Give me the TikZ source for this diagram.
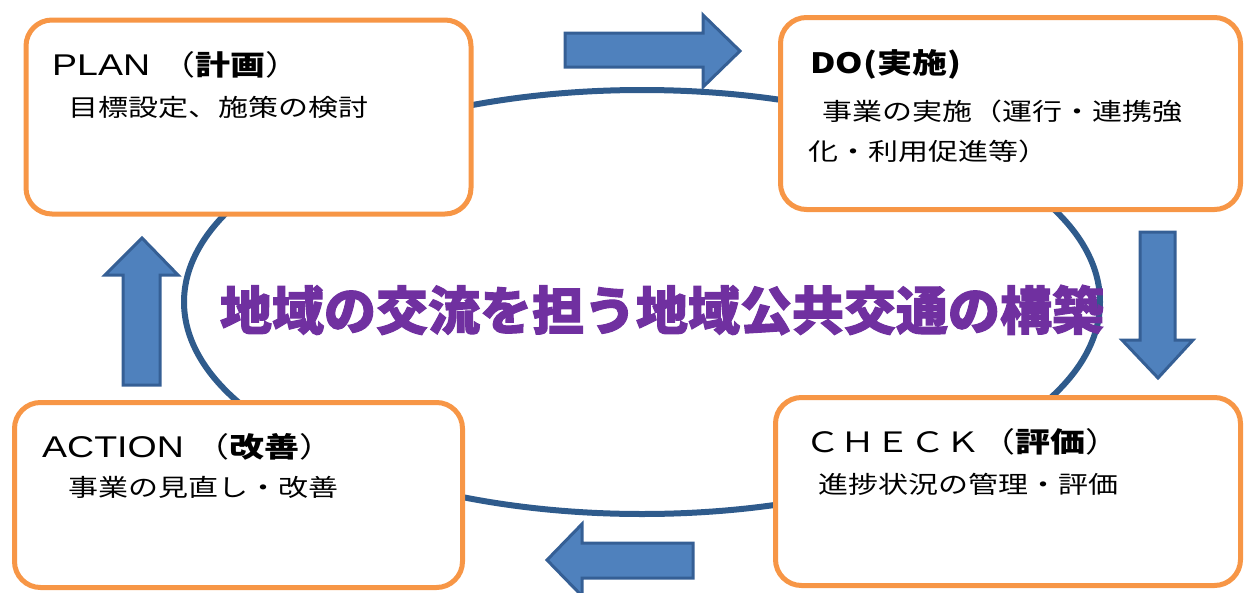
\documentclass[tikz,border=0pt]{standalone}
\usepackage{fontspec}
\newfontfamily\jp{Noto Sans CJK JP}[FakeStretch=1.25]
\newfontfamily\lat{Liberation Sans}[FakeStretch=1.25]
\newfontfamily\jpt{Noto Sans CJK JP}[BoldFeatures={FakeBold=2}]
\definecolor{boxorange}{HTML}{F79646}
\definecolor{ringblue}{HTML}{2F5B8C}
\definecolor{arrowfill}{HTML}{4F81BD}
\definecolor{arrowdraw}{HTML}{355F95}
\definecolor{titlepurple}{HTML}{7030A0}
\tikzset{
  box/.style={draw=boxorange, line width=5pt, fill=white, rounded corners=26pt,
    anchor=north west, inner sep=0pt, outer sep=0pt},
  head/.style={anchor=base west, inner sep=0pt, font=\jp\fontsize{28}{30}\selectfont},
  body/.style={anchor=base west, inner sep=0pt, font=\jp\fontsize{24}{28}\selectfont},
  blockarrow/.style={fill=arrowfill, draw=arrowdraw, line width=3pt, line join=miter},
  ring/.style={draw=ringblue, line width=6pt},
}
\newcommand{\latw}[1]{{\lat\fontsize{30}{32}\selectfont #1\ }}
\begin{document}
\begin{tikzpicture}[x=1pt,y=-1pt]
\useasboundingbox (0,0) rectangle (1245,592);
% central ring
\draw[ring] (642,302) ellipse [x radius=458pt, y radius=212pt];
% boxes
\node[box, minimum width=445pt, minimum height=194pt] (plan) at (26,20) {};
\node[box, minimum width=460pt, minimum height=192pt] (do) at (780.5,17.5) {};
\node[box, minimum width=448pt, minimum height=185pt] (action) at (14.5,402.5) {};
\node[box, minimum width=465pt, minimum height=188pt] (check) at (775.5,397.5) {};
% box texts
\node[head] (planh) at (52,75) {\latw{PLAN}（{\bfseries 計画}）};
\node[body] (planb) at (68,116) {目標設定、施策の検討};
\node[head] (doh) at (810,73) {\bfseries DO(実施)};
\node[body] (dob1) at (822,120) {事業の実施（運行・連携強};
\node[body] (dob2) at (808,160) {化・利用促進等）};
\node[head] (actionh) at (42,457) {\latw{ACTION}（{\bfseries 改善}）};
\node[body] (actionb) at (68,496) {事業の見直し・改善};
\node[head] (checkh) at (805,452) {ＣＨＥＣＫ（{\bfseries 評価}）};
\node[body] (checkb) at (818,493) {進捗状況の管理・評価};
% block arrows
\draw[blockarrow] (565,33) -- (703,33) -- (703,15) -- (740,51) -- (703,87) -- (703,67) -- (565,67) -- cycle;
\draw[blockarrow] (1140,232) -- (1175,232) -- (1175,340) -- (1193,340) -- (1158,378) -- (1122,340) -- (1140,340) -- cycle;
\draw[blockarrow] (123,385) -- (160,385) -- (160,275) -- (178,275) -- (142,238) -- (105,275) -- (123,275) -- cycle;
\draw[blockarrow] (693,543) -- (693,578) -- (582,578) -- (582,596) -- (547,560) -- (582,524) -- (582,543) -- cycle;
% title
\node[inner sep=0pt, text=titlepurple, font=\jpt\bfseries\fontsize{52}{56}\selectfont] (title) at (662,310) {地域の交流を担う地域公共交通の構築};
\end{tikzpicture}
\end{document}
